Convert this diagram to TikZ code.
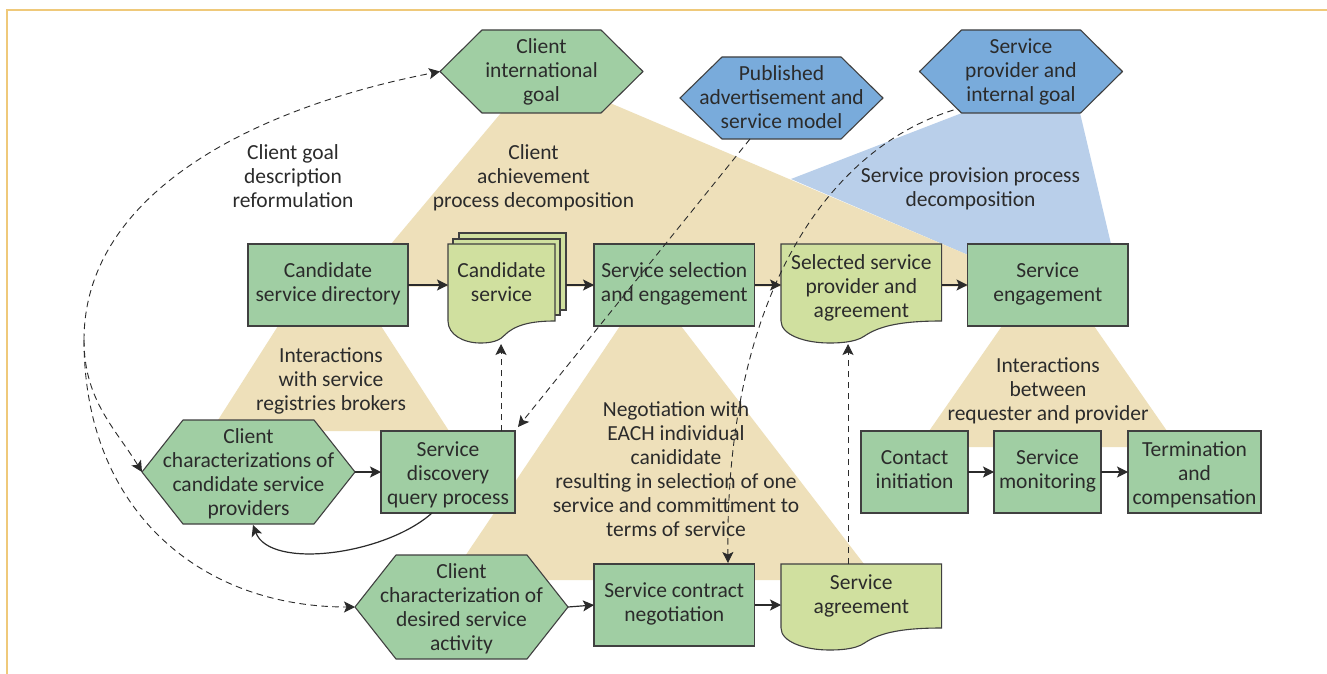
\documentclass[tikz,border=0pt]{standalone}
\usepackage{fontspec}
\setmainfont{Carlito}
\usetikzlibrary{arrows.meta,calc}
\definecolor{grn}{HTML}{A0CEA3}
\definecolor{lgrn}{HTML}{D0E09F}
\definecolor{blu}{HTML}{79ABDB}
\definecolor{lblu}{HTML}{B9CFEA}
\definecolor{tan1}{HTML}{EEE0BA}
\definecolor{frm}{HTML}{EFC97A}
\definecolor{ink}{HTML}{2B2B2B}
\newcommand\lowpad[1]{\rule[-#1pt]{0pt}{#1pt}}
\newcommand\highpad[1]{\rule{0pt}{#1pt}}
\tikzset{
 txt/.style={font=\fontsize{21.5}{24}\selectfont,text=ink,align=center,inner sep=0pt,outer sep=0pt},
 rectbox/.style={txt,draw=ink!90,line width=1.1pt,fill=grn,rectangle},
 hexbody/.style={draw=ink!90,line width=1.1pt,line join=round},
 docbody/.style={draw=ink!90,line width=1.1pt,fill=lgrn},
 solidarr/.style={draw=ink,line width=1.2pt,-{Stealth[length=11pt,width=11pt,inset=2.5pt]}},
 dasharr/.style={draw=ink,line width=.9pt,dash pattern=on 6.5pt off 4.5pt,-{Stealth[length=11pt,width=11pt,inset=2.5pt]}},
}
\newcommand\hexn[8]{% name cx cy hw hh inset colour text
 \draw[hexbody,fill=#7,shift={(#2,#3)}] (-#4,0)--(-#4+#6,-#5)--(#4-#6,-#5)--(#4,0)--(#4-#6,#5)--(-#4+#6,#5)--cycle;
 \node[txt,minimum width=2*#4 pt,minimum height=2*#5 pt] (#1) at (#2,#3) {#8};}
\newcommand\docshape[3]{% x y w, h, 
 \draw[docbody,shift={(#1)}] (0,0)--(#2,0)--(#2,#3) .. controls (0.77*#2,#3) and (0.62*#2,#3+4) .. (0.52*#2,#3+15) .. controls (0.46*#2,#3+22) and (0.34*#2,#3+22) .. (0.3*#2,#3+22) .. controls (0.15*#2,#3+22) and (0,#3+14) .. (0,#3) -- cycle;}
\newcommand\rectn[6]{% name x0 y0 x1 y1 text
 \node[rectbox,minimum width=#4-#2 pt,minimum height=#5-#3 pt] (#1) at ({(#2+#4)/2},{(#3+#5)/2}) {#6};}
\begin{document}
\begin{tikzpicture}[x=1pt,y=-1pt]
\useasboundingbox (0,0) rectangle (1327,674);
\fill[white] (0,0) rectangle (1327,674);
\draw[frm,line width=1.4pt] (7,674)--(7,10)--(1327,10);
% background wedges
\fill[lblu] (791,179)--(962,113)--(1080,113)--(1111,244)--(1000,260)--(968,255)--cycle;
\fill[tan1] (501,113)--(610,103)--(968,255)--(968,286.5)--(391,286.5)--(391,244)--cycle;
\fill[tan1] (278,326)--(381,326)--(449,431)--(211,431)--cycle;
\fill[tan1] (620,326)--(681,326)--(864,564)--(864,580)--(449,580)--cycle;
\fill[tan1] (1002,326)--(1094,326)--(1167,431)--(1167,447)--(918,447)--cycle;
% free labels
\node[txt] (lblgoal) at (293,176) {Client goal\\description\\reformulation};
\node[txt] (lblach) at (533.5,178) {Client\\achievement\\process decomposition};
\node[txt] (lblprov) at (970.5,189) {Service provision process\\decomposition};
\node[txt] (lblreg) at (331,380.5) {Interactions\\with service\\registries brokers};
\node[txt] (lblreq) at (1048,390.5) {Interactions\\between\\requester and provider};
\node[txt] (lblneg) at (676,469) {Negotiation with\\EACH individual\\canididate\\resulting in selection of one\\service and committment to\\terms of service};
% hexagons
\hexn{cgoal}{541.5}{71.5}{101.5}{41.5}{42}{grn}{Client\\international\\goal}
\hexn{pub}{781.5}{98}{101.5}{41}{42}{blu}{Published\\advertisement and\\service model\lowpad{2}}
\hexn{prov}{1021}{71.5}{101.5}{41.5}{42}{blu}{Service\\provider and\\internal goal}
\hexn{cchar}{248.5}{472}{106.5}{52}{41}{grn}{\highpad{19}Client\\characterizations of\\candidate service\\providers}
\hexn{cdes}{461.5}{607}{106.5}{52}{41}{grn}{\highpad{19}Client\\characterization of\\desired service\\activity}
% rectangles
\rectn{dir}{248}{244}{408}{326}{Candidate\\service directory\lowpad{6.5}}
\rectn{sel}{594}{244}{754.5}{326}{Service selection\\and engagement\lowpad{6.5}}
\rectn{eng}{967.5}{244}{1128}{326}{Service\\engagement\lowpad{6.5}}
\rectn{disc}{381}{431}{515}{513}{\highpad{20}Service\\discovery\\query process}
\rectn{neg}{594}{564}{754.5}{646}{Service contract\\negotiation\lowpad{6}}
\rectn{cont}{861}{431}{968}{513}{Contact\\initiation\lowpad{4}}
\rectn{mon}{994}{431}{1101}{513}{Service\\monitoring\lowpad{6.5}}
\rectn{term}{1128}{431}{1261}{513}{\highpad{20}Termination\\and\\compensation}
% documents
\draw[docbody] (459,233) rectangle (566,310);
\draw[docbody] (453,239) rectangle (560,315);
\docshape{448,244}{107}{77}
\node[txt,minimum width=107pt,minimum height=77pt] (cand) at (501.5,282.5) {Candidate\\service};
\coordinate (candback) at (566,285);
\docshape{781,244}{160.6}{77}
\node[txt,minimum width=160.6pt,minimum height=77pt] (seld) at (861.3,287.5) {Selected service\\provider and\\agreement};
\docshape{781,564}{160.6}{64}
\node[txt,minimum width=160.6pt,minimum height=64pt] (agr) at (861.3,596) {Service\\agreement};
% anchor points for free ends
\coordinate (hub) at (84,340);
\coordinate (candbot) at (501,344);
\coordinate (selbot) at (848,344);
\coordinate (discout) at (501,431);
\coordinate (agrout) at (848,564);
\coordinate (discin) at (518,427);
\coordinate (pubout) at (750,139);
\coordinate (provout) at (953.5,110);
\coordinate (negin) at (728,563);
\coordinate (loopa) at (432,513);
\coordinate (loopb) at (253,525);
% solid arrows
\draw[solidarr] (dir.east) -- (dir.east -| cand.west);
\draw[solidarr] (candback) -- (sel.west);
\draw[solidarr] (sel.east) -- (sel.east -| seld.west);
\draw[solidarr] (eng.west -| seld.east) -- (eng.west);
\draw[solidarr] (cchar.east) -- (disc.west);
\draw[solidarr] (cont.east) -- (mon.west);
\draw[solidarr] (mon.east) -- (term.west);
\draw[solidarr] (cdes.east) -- (neg.west);
\draw[solidarr] (neg.east) -- (neg.east -| agr.west);
\draw[solidarr] (loopa) .. controls (385,555) and (270,570) .. (loopb);
% dashed arrows
\draw[dasharr] (hub) .. controls (84,196) and (248,109) .. (cgoal.west);
\draw[dasharr] (hub) .. controls (84,400) and (115,428) .. (cchar.west);
\draw[dasharr] (hub) .. controls (84,510) and (200,607) .. (cdes.west);
\draw[dasharr] (pubout) -- (discin);
\draw[dasharr] (discout) -- (candbot);
\draw[dasharr] (agrout) -- (selbot);
\draw[dasharr] (provout) .. controls (825,150) and (725,300) .. (negin);
\end{tikzpicture}
\end{document}
